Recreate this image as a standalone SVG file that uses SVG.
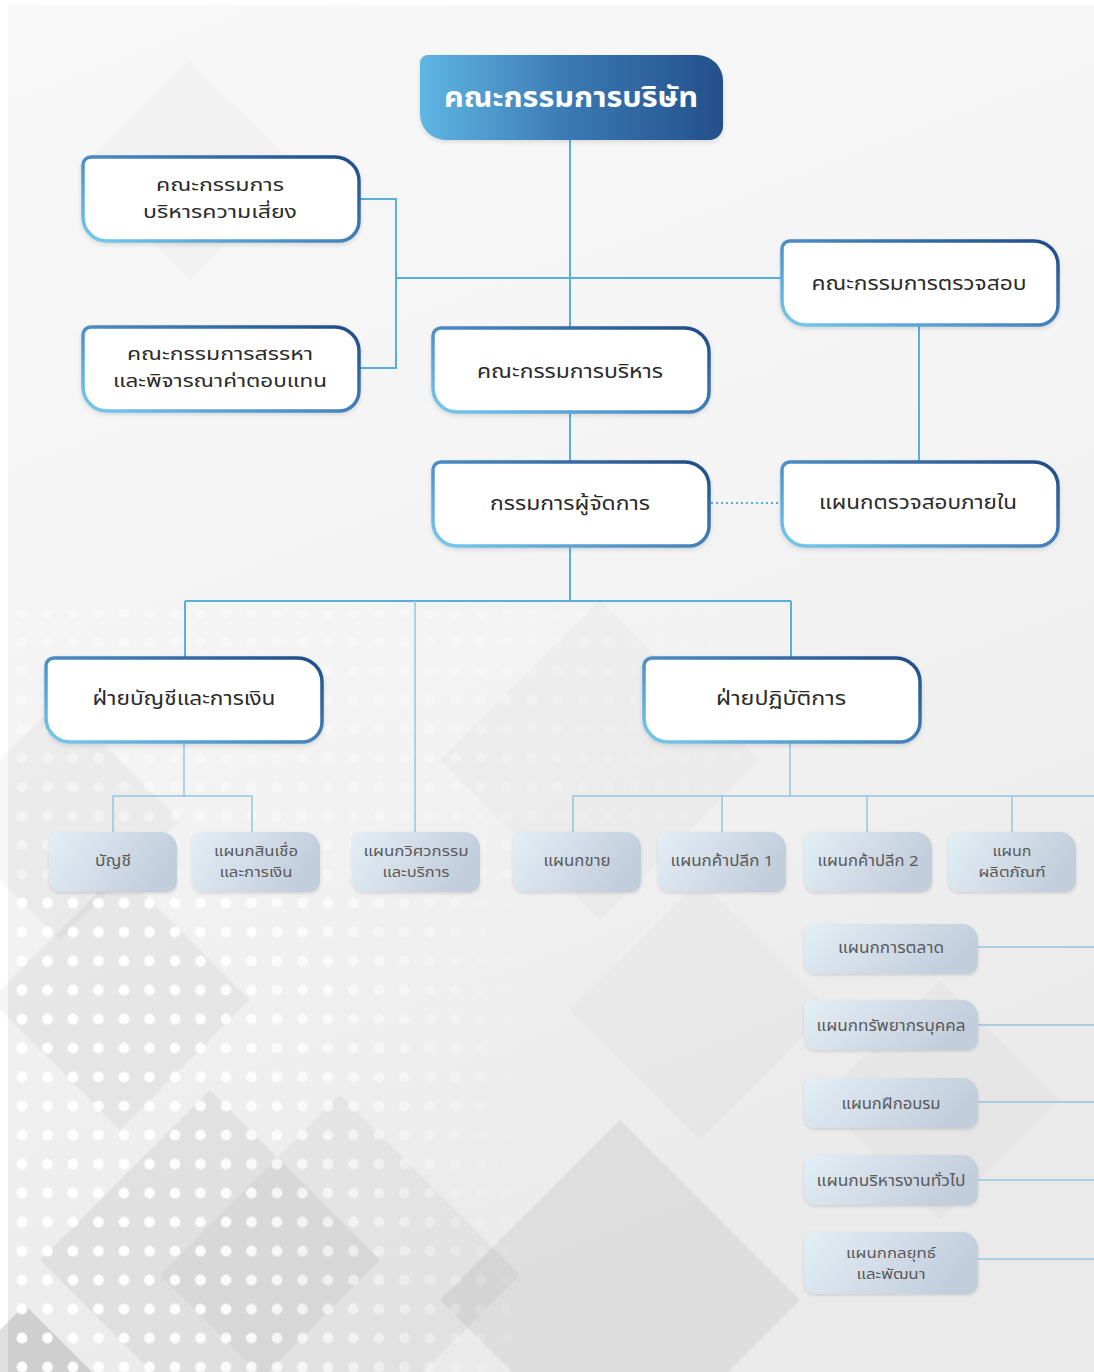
<svg xmlns="http://www.w3.org/2000/svg" xmlns:xlink="http://www.w3.org/1999/xlink" width="1094" height="1372" viewBox="0 0 1094 1372">
<defs>
<style>
.t{font-family:"Noto Sans Thai","Noto Sans","Liberation Sans",sans-serif;fill:#2a2a2a;font-size:20px;text-anchor:middle}
.t2{font-family:"Noto Sans Thai","Noto Sans","Liberation Sans",sans-serif;fill:#2a2a2a;font-size:17.5px;text-anchor:middle}
.s{font-family:"Noto Sans Thai","Noto Sans","Liberation Sans",sans-serif;fill:#5a5a5a;font-size:15px;text-anchor:middle}
.s2{font-family:"Noto Sans Thai","Noto Sans","Liberation Sans",sans-serif;fill:#5a5a5a;font-size:14px;text-anchor:middle}
.h{font-family:"Noto Sans Thai","Noto Sans","Liberation Sans",sans-serif;fill:#ffffff;font-size:28px;font-weight:bold;text-anchor:middle}
.ln{fill:none;stroke:#5aaedb;stroke-width:2}
.ln2{fill:none;stroke:#93c6e2;stroke-width:1.5}
.box{fill:#ffffff;stroke:url(#gStroke);stroke-width:3.5;filter:url(#sh)}
.sbox{fill:url(#gSmall);filter:url(#sh2)}
</style>
<linearGradient id="gTop" x1="0" y1="0" x2="1" y2="0">
<stop offset="0" stop-color="#5fb6e4"/>
<stop offset="0.5" stop-color="#3a78b2"/>
<stop offset="1" stop-color="#24508b"/>
</linearGradient>
<linearGradient id="gStroke" x1="0" y1="0.9" x2="1" y2="0.1">
<stop offset="0" stop-color="#72c4ea"/>
<stop offset="0.45" stop-color="#4a8cc4"/>
<stop offset="1" stop-color="#22508b"/>
</linearGradient>
<linearGradient id="gSmall" x1="0" y1="0" x2="1" y2="0.3">
<stop offset="0" stop-color="#e4eef5"/>
<stop offset="1" stop-color="#c3cedd"/>
</linearGradient>
<linearGradient id="gBg" x1="0" y1="0" x2="0.3" y2="1">
<stop offset="0" stop-color="#f8f8f8"/>
<stop offset="0.5" stop-color="#f4f4f4"/>
<stop offset="1" stop-color="#eaeaea"/>
</linearGradient>
<linearGradient id="gFadeX" x1="0" y1="0" x2="1" y2="0">
<stop offset="0" stop-color="#fff"/>
<stop offset="0.45" stop-color="#fff" stop-opacity="0.85"/>
<stop offset="1" stop-color="#fff" stop-opacity="0"/>
</linearGradient>
<mask id="mDots" maskUnits="userSpaceOnUse" x="0" y="0" width="1094" height="1372">
<rect x="8" y="890" width="530" height="482" fill="url(#gFadeX)"/>
<rect x="8" y="610" width="820" height="280" fill="url(#gFadeX)" opacity="0.4"/>
</mask>
<pattern id="pDots" patternUnits="userSpaceOnUse" x="9.25" y="888.5" width="25.5" height="29">
<circle cx="12.75" cy="14.5" r="5.4" fill="#ffffff"/>
</pattern>
<filter id="sh" x="-10%" y="-10%" width="120%" height="130%">
<feDropShadow dx="0" dy="2" stdDeviation="2" flood-color="#000" flood-opacity="0.12"/>
</filter>
<filter id="sh2" x="-10%" y="-10%" width="120%" height="130%">
<feDropShadow dx="0" dy="1.5" stdDeviation="1.5" flood-color="#000" flood-opacity="0.12"/>
</filter>
<path id="bigBox" d="M8,0 H252 A24,24 0 0 1 276,24 V64 A20,20 0 0 1 256,84 H24 A24,24 0 0 1 0,60 V8 A8,8 0 0 1 8,0 Z"/>
<path id="rowBox" d="M8,0 H112 A16,16 0 0 1 128,16 V50 A10,10 0 0 1 118,60 H12 A12,12 0 0 1 0,48 V8 A8,8 0 0 1 8,0 Z"/>
<path id="colBox" d="M8,0 H158 A16,16 0 0 1 174,16 V40 A10,10 0 0 1 164,50 H12 A12,12 0 0 1 0,38 V8 A8,8 0 0 1 8,0 Z"/>
<path id="colBoxT" d="M8,0 H158 A16,16 0 0 1 174,16 V52 A10,10 0 0 1 164,62 H12 A12,12 0 0 1 0,50 V8 A8,8 0 0 1 8,0 Z"/>
</defs>

<g id="background">
<rect x="0" y="0" width="1094" height="1372" fill="#ffffff"/>
<rect x="8" y="5" width="1086" height="1367" fill="url(#gBg)"/>
<g fill="#000">
<polygon points="190,60 300,170 190,280 80,170" opacity="0.02"/>
<polygon points="600,600 760,760 600,920 440,760" opacity="0.02"/>
<polygon points="120,870 250,1000 120,1130 -10,1000" opacity="0.04"/>
<polygon points="210,1090 380,1260 210,1430 40,1260" opacity="0.05"/>
<polygon points="340,1095 520,1275 340,1455 160,1275" opacity="0.035"/>
<polygon points="620,1120 800,1300 620,1480 440,1300" opacity="0.055"/>
<polygon points="700,880 830,1010 700,1140 570,1010" opacity="0.018"/>
<polygon points="25,1305 95,1375 25,1445 -45,1375" opacity="0.12"/>
<polygon points="940,980 1060,1100 940,1220 820,1100" opacity="0.018"/>
<polygon points="60,700 180,820 60,940 -60,820" opacity="0.03"/>
</g>
<rect x="8" y="610" width="830" height="762" fill="url(#pDots)" mask="url(#mDots)"/>
</g>

<g id="connectors">
<path class="ln" d="M570,140 V328"/>
<path class="ln" d="M396,278 H782"/>
<path class="ln" d="M358,199 H396 V368 H358"/>
<path class="ln" d="M570,412 V462"/>
<path class="ln" d="M919,325 V462"/>
<path class="ln" d="M711,503 H780" stroke-dasharray="2 3"/>
<path class="ln" d="M570,546 V601"/>
<path class="ln" d="M185,601 H791"/>
<path class="ln" d="M185,601 V658"/>
<path class="ln" d="M791,601 V658"/>
<path class="ln2" d="M415,601 V832"/>
<path class="ln2" d="M184,742 V796"/>
<path class="ln2" d="M113,832 V796 H252 V832"/>
<path class="ln2" d="M790,742 V796"/>
<path class="ln2" d="M573,832 V796 H1094"/>
<path class="ln2" d="M722,796 V832"/>
<path class="ln2" d="M867,796 V832"/>
<path class="ln2" d="M1012,796 V832"/>
<path class="ln2" d="M978,947 H1094"/>
<path class="ln2" d="M978,1025 H1094"/>
<path class="ln2" d="M978,1102 H1094"/>
<path class="ln2" d="M978,1180 H1094"/>
<path class="ln2" d="M978,1259 H1094"/>
</g>

<g id="board">
<path d="M428,55 H697 A26,26 0 0 1 723,81 V126 A14,14 0 0 1 709,140 H446 A26,26 0 0 1 420,114 V63 A8,8 0 0 1 428,55 Z" fill="url(#gTop)" filter="url(#sh)"/>
<text class="h" x="571" y="107" textLength="254" lengthAdjust="spacingAndGlyphs">คณะกรรมการบริษัท</text>
</g>
<g id="risk">
<use href="#bigBox" class="box" transform="translate(83,157)"/>
<text class="t2"><tspan x="220" y="191" textLength="128" lengthAdjust="spacingAndGlyphs">คณะกรรมการ</tspan><tspan x="220" y="218" textLength="154" lengthAdjust="spacingAndGlyphs">บริหารความเสี่ยง</tspan></text>
</g>
<g id="nomination">
<use href="#bigBox" class="box" transform="translate(83,327)"/>
<text class="t2"><tspan x="220" y="360" textLength="186" lengthAdjust="spacingAndGlyphs">คณะกรรมการสรรหา</tspan><tspan x="220" y="387" textLength="214" lengthAdjust="spacingAndGlyphs">และพิจารณาค่าตอบแทน</tspan></text>
</g>
<g id="audit">
<use href="#bigBox" class="box" transform="translate(782,241)"/>
<text class="t" x="919" y="290" textLength="215" lengthAdjust="spacingAndGlyphs">คณะกรรมการตรวจสอบ</text>
</g>
<g id="executive">
<use href="#bigBox" class="box" transform="translate(433,328)"/>
<text class="t" x="570" y="378" textLength="186" lengthAdjust="spacingAndGlyphs">คณะกรรมการบริหาร</text>
</g>
<g id="md">
<use href="#bigBox" class="box" transform="translate(433,462)"/>
<text class="t" x="570" y="510" textLength="160" lengthAdjust="spacingAndGlyphs">กรรมการผู้จัดการ</text>
</g>
<g id="internal-audit">
<use href="#bigBox" class="box" transform="translate(782,462)"/>
<text class="t" x="918" y="509" textLength="198" lengthAdjust="spacingAndGlyphs">แผนกตรวจสอบภายใน</text>
</g>
<g id="finance-div">
<use href="#bigBox" class="box" transform="translate(46,658)"/>
<text class="t" x="184" y="705" textLength="183" lengthAdjust="spacingAndGlyphs">ฝ่ายบัญชีและการเงิน</text>
</g>
<g id="ops-div">
<use href="#bigBox" class="box" transform="translate(644,658)"/>
<text class="t" x="781" y="705" textLength="130" lengthAdjust="spacingAndGlyphs">ฝ่ายปฏิบัติการ</text>
</g>

<g id="accounting">
<use href="#rowBox" class="sbox" transform="translate(49,832)"/>
<text class="s" x="113" y="866" textLength="36" lengthAdjust="spacingAndGlyphs">บัญชี</text>
</g>
<g id="credit">
<use href="#rowBox" class="sbox" transform="translate(192,832)"/>
<text class="s2"><tspan x="256" y="856" textLength="84" lengthAdjust="spacingAndGlyphs">แผนกสินเชื่อ</tspan><tspan x="256" y="877" textLength="73" lengthAdjust="spacingAndGlyphs">และการเงิน</tspan></text>
</g>
<g id="engineering">
<use href="#rowBox" class="sbox" transform="translate(352,832)"/>
<text class="s2"><tspan x="416" y="856" textLength="105" lengthAdjust="spacingAndGlyphs">แผนกวิศวกรรม</tspan><tspan x="416" y="877" textLength="67" lengthAdjust="spacingAndGlyphs">และบริการ</tspan></text>
</g>
<g id="sales">
<use href="#rowBox" class="sbox" transform="translate(513,832)"/>
<text class="s" x="577" y="866" textLength="67" lengthAdjust="spacingAndGlyphs">แผนกขาย</text>
</g>
<g id="retail1">
<use href="#rowBox" class="sbox" transform="translate(658,832)"/>
<text class="s" x="722" y="866" textLength="103" lengthAdjust="spacingAndGlyphs">แผนกค้าปลีก 1</text>
</g>
<g id="retail2">
<use href="#rowBox" class="sbox" transform="translate(804,832)"/>
<text class="s" x="868" y="866" textLength="101" lengthAdjust="spacingAndGlyphs">แผนกค้าปลีก 2</text>
</g>
<g id="product">
<use href="#rowBox" class="sbox" transform="translate(948,832)"/>
<text class="s2"><tspan x="1012" y="856" textLength="39" lengthAdjust="spacingAndGlyphs">แผนก</tspan><tspan x="1012" y="877" textLength="67" lengthAdjust="spacingAndGlyphs">ผลิตภัณฑ์</tspan></text>
</g>
<g id="marketing">
<use href="#colBox" class="sbox" transform="translate(804,924)"/>
<text class="s" x="891" y="953" textLength="106" lengthAdjust="spacingAndGlyphs">แผนกการตลาด</text>
</g>
<g id="hr">
<use href="#colBox" class="sbox" transform="translate(804,1000)"/>
<text class="s" x="891" y="1031" textLength="149" lengthAdjust="spacingAndGlyphs">แผนกทรัพยากรบุคคล</text>
</g>
<g id="training">
<use href="#colBox" class="sbox" transform="translate(804,1078)"/>
<text class="s" x="891" y="1109" textLength="99" lengthAdjust="spacingAndGlyphs">แผนกฝึกอบรม</text>
</g>
<g id="admin">
<use href="#colBox" class="sbox" transform="translate(804,1155)"/>
<text class="s" x="891" y="1186" textLength="149" lengthAdjust="spacingAndGlyphs">แผนกบริหารงานทั่วไป</text>
</g>
<g id="strategy">
<use href="#colBoxT" class="sbox" transform="translate(804,1232)"/>
<text class="s2"><tspan x="891" y="1258" textLength="90" lengthAdjust="spacingAndGlyphs">แผนกกลยุทธ์</tspan><tspan x="891" y="1279" textLength="69" lengthAdjust="spacingAndGlyphs">และพัฒนา</tspan></text>
</g>
</svg>
